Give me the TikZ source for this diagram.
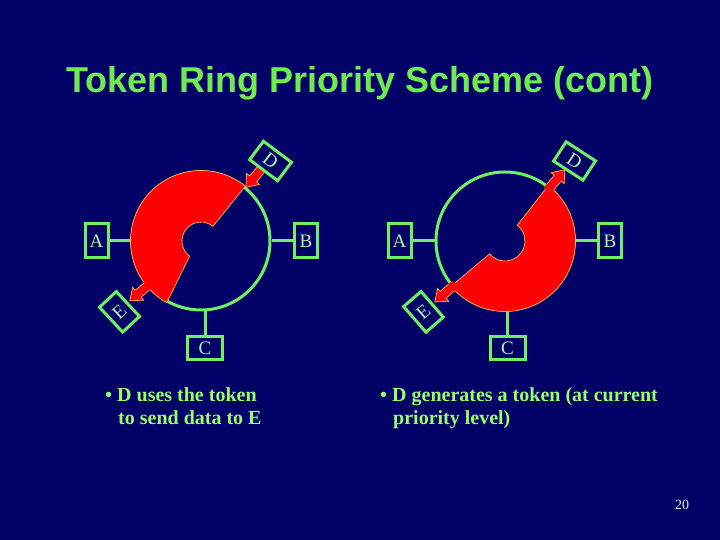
\documentclass[tikz,border=0pt]{standalone}
\usepackage{fontspec}
\setmainfont{Liberation Serif}
\newfontfamily\titlefont{Liberation Sans}
\usetikzlibrary{calc}
\definecolor{bgc}{RGB}{0,0,102}
\definecolor{lnc}{RGB}{110,240,100}
\definecolor{ttc}{RGB}{110,235,80}
\definecolor{lbc}{RGB}{175,250,175}
\definecolor{bdc}{RGB}{150,255,110}
\definecolor{rdc}{RGB}{255,0,0}
\definecolor{olc}{RGB}{255,190,90}
\definecolor{pgc}{RGB}{205,240,225}
\newcommand\redarrow[4]{%
  \fill[rdc] (#1,-4.5) -- (#2,-4.5) -- (#2,-8.5) -- (#3,0) -- (#2,8.5) -- (#2,4.5) -- (#1,4.5) -- cycle;
  \draw[olc, line width=0.7pt, line join=miter] (#4,-4.5) -- (#2,-4.5) -- (#2,-8.5) -- (#3,0) -- (#2,8.5) -- (#2,4.5) -- (#4,4.5);}
\tikzset{
  ring/.style={circle, draw=lnc, line width=3pt, minimum size=138pt, inner sep=0pt},
  stem/.style={draw=lnc, line width=3pt},
  stnt/.style={draw=lnc, line width=3pt, fill=bgc, text=lbc, font=\fontsize{19}{19}\selectfont, minimum width=23pt, minimum height=34pt, inner sep=0pt},
  stnw/.style={stnt, minimum width=35pt, minimum height=23pt},
  redshape/.style={fill=rdc, draw=olc, line width=0.7pt, line join=miter},
  bodytext/.style={anchor=base west, text=bdc, font=\bfseries\fontsize{20}{20}\selectfont, inner sep=0pt}
}
\begin{document}
\begin{tikzpicture}[x=1pt,y=1pt]
\useasboundingbox (0,0) rectangle (720,540);
\fill[bgc] (0,0) rectangle (720,540);

\node[anchor=base, text=ttc, font=\titlefont\bfseries\fontsize{36}{36}\selectfont, inner sep=0pt] (title) at (360,447) {Token Ring Priority Scheme (cont)};

% left ring
\begin{scope}[shift={(201,299)}]
  \node[ring] (ringL) at (0,0) {};
  \node[stnt] (aL) at (-104.5,0) {A};
  \node[stnt] (bL) at (105,0) {B};
  \node[stnw] (cL) at (4,-107) {C};
  \draw[stem] (aL.east) -- (ringL.west);
  \draw[stem] (bL.west) -- (ringL.east);
  \draw[stem] (cL.north) -- (cL.north |- ringL.south);
  \filldraw[redshape] (51:70.5) arc[start angle=51, end angle=241, radius=70.5] -- (233:19) arc[start angle=233, end angle=51, radius=19] -- cycle;
  \begin{scope}[rotate=50] \redarrow{94}{81}{70}{94} \end{scope}
  \begin{scope}[rotate=220] \redarrow{66}{82}{93}{71} \end{scope}
  \node[stnw, rotate=-37] (dL) at (49:106) {D};
  \node[stnt, rotate=43] (eL) at (221:108) {E};
\end{scope}

% right ring
\begin{scope}[shift={(505,299)}]
  \node[ring] (ringR) at (0,0) {};
  \node[stnt] (aR) at (-105.5,0) {A};
  \node[stnt] (bR) at (105,0) {B};
  \node[stnw] (cR) at (2.5,-107) {C};
  \draw[stem] (aR.east) -- (ringR.west);
  \draw[stem] (bR.west) -- (ringR.east);
  \draw[stem] (cR.north) -- (cR.north |- ringR.south);
  \filldraw[redshape] (52:70.5) arc[start angle=52, end angle=-140, radius=70.5] -- (-140:20) arc[start angle=-140, end angle=52, radius=20] -- cycle;
  \begin{scope}[rotate=50] \redarrow{66}{82}{93}{71} \end{scope}
  \begin{scope}[rotate=221] \redarrow{66}{82}{93}{71} \end{scope}
  \node[stnw, rotate=-33] (dR) at (49:106) {D};
  \node[stnt, rotate=41] (eR) at (221:108) {E};
\end{scope}

% texts
\node[bodytext] (l1) at (105,138) {\textbullet\ D uses the token};
\node[bodytext] (l2) at (118,115) {to send data to E};
\node[bodytext] (r1) at (380,138) {\textbullet\ D generates a token (at current};
\node[bodytext] (r2) at (393,115) {priority level)};
\node[anchor=base west, text=pgc, font=\fontsize{14}{14}\selectfont, inner sep=0pt] (pg) at (675,30) {20};
\end{tikzpicture}
\end{document}
